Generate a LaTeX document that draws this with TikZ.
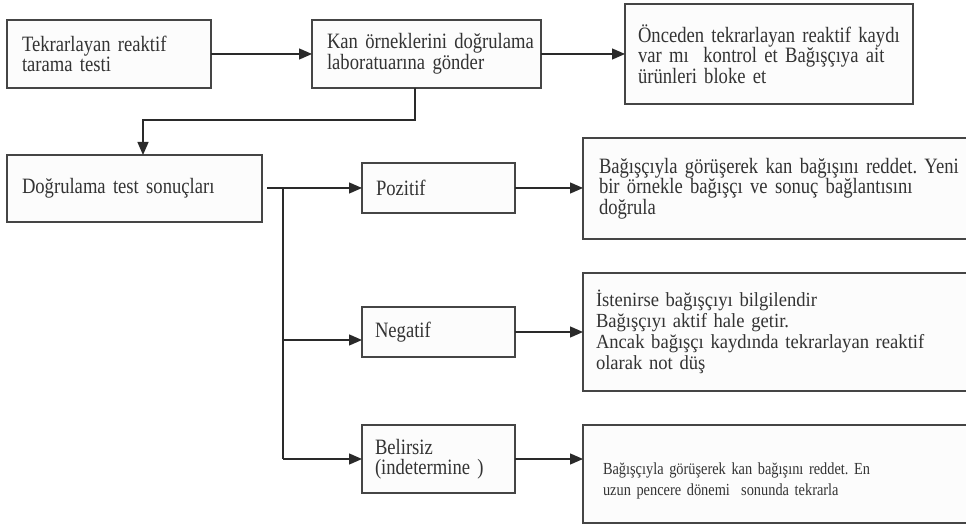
\documentclass[tikz,border=0pt]{standalone}
\usepackage{fontspec}
\setmainfont{Liberation Serif}[FakeStretch=0.85]
\newfontfamily\negfamily{Liberation Serif}[FakeStretch=0.93]
\usetikzlibrary{arrows.meta}
\definecolor{txt}{HTML}{333333}
\definecolor{boxline}{HTML}{454545}
\definecolor{boxfill}{HTML}{FCFCFC}
\definecolor{conn}{HTML}{2A2A2A}
\newcommand\fmain{\fontsize{21.9pt}{20.5pt}\selectfont}
\newcommand\fneg{\negfamily\fontsize{20pt}{21pt}\selectfont}
\newcommand\fbel{\fontsize{16.9pt}{21pt}\selectfont}
\frenchspacing
\hyphenpenalty=10000
\tikzset{
  box/.style={draw=boxline, fill=boxfill, line width=1.1pt, anchor=north west,
    inner ysep=0pt, outer sep=0pt, align=left, text=txt, font=\fmain},
  conline/.style={draw=conn, line width=1.3pt},
  arr/.style={conline, -{Triangle[length=13pt,width=11pt]}},
}
\begin{document}
\begin{tikzpicture}[x=1pt,y=-1pt]
\useasboundingbox (0,0) rectangle (966,526);
\clip (0,0) rectangle (966,526);
\fill[white] (0,0) rectangle (966,526);

\node[box, minimum width=204pt, minimum height=68pt, text width=174pt, inner xsep=15pt] (b1) at (7,20) {Tekrarlayan reaktif\\tarama testi};
\node[box, minimum width=229pt, minimum height=68pt, text width=199pt, inner xsep=15pt] (b2) at (312,20) {\mbox{Kan örneklerini doğrulama}\\laboratuarına gönder};
\node[box, minimum width=288pt, minimum height=100pt, text width=262pt, inner xsep=13pt] (b3) at (625,4) {\mbox{Önceden tekrarlayan reaktif kaydı}\\\mbox{var mı~ kontrol et Bağışçıya ait}\\ürünleri bloke et};
\node[box, minimum width=255pt, minimum height=67pt, text width=225pt, inner xsep=15pt] (b4) at (7,155) {Doğrulama test sonuçları};
\node[box, minimum width=153pt, minimum height=50pt, text width=125pt, inner xsep=14pt] (pos) at (362,163) {Pozitif};
\node[box, minimum width=153pt, minimum height=50pt, text width=127pt, inner xsep=13pt] (neg) at (362,307) {Negatif};
\node[box, minimum width=153pt, minimum height=68pt, text width=127pt, inner xsep=13pt] (bel) at (362,425) {Belirsiz\\(indetermine )};
\node[box, minimum width=400pt, minimum height=101pt, text width=368pt, inner xsep=16pt] (rpos) at (583,138) {Bağışçıyla görüşerek kan bağışını reddet. Yeni\\bir örnekle bağışçı ve sonuç bağlantısını\\doğrula};
\node[box, font=\fneg, minimum width=400pt, minimum height=118pt, text width=374pt, inner xsep=13pt] (rneg) at (583,273) {İstenirse bağışçıyı bilgilendir\\Bağışçıyı aktif hale getir.\\Ancak bağışçı kaydında tekrarlayan reaktif\\olarak not düş};
\node[box, font=\fbel, minimum width=400pt, minimum height=98pt, text width=360pt, inner xsep=20pt] (rbel) at (583,425) {\rule{0pt}{25pt}Bağışçıyla görüşerek kan bağışını reddet. En\\uzun pencere dönemi~ sonunda tekrarla};

\coordinate (j1) at (415,120);
\coordinate (j2) at (143,120);
\coordinate (tr) at (283,188);
\coordinate (t1) at (283,340);
\coordinate (t2) at (283,459);

\draw[arr] (b1.east) -- (b2.west);
\draw[arr] (b2.east) -- (b2.east -| b3.west);
\draw[arr] (b2.south -| j1) -- (j1) -- (j2) -- (b4.north -| j2);
\draw[arr, shorten <=5pt] (b4.east |- pos.west) -- (pos.west);
\draw[conline] (tr) -- (t2);
\draw[arr] (t1) -- (neg.west |- t1);
\draw[arr] (t2) -- (bel.west |- t2);
\draw[arr] (pos.east) -- (pos.east -| rpos.west);
\draw[arr] (neg.east) -- (neg.east -| rneg.west);
\draw[arr] (bel.east) -- (bel.east -| rbel.west);
\end{tikzpicture}
\end{document}
